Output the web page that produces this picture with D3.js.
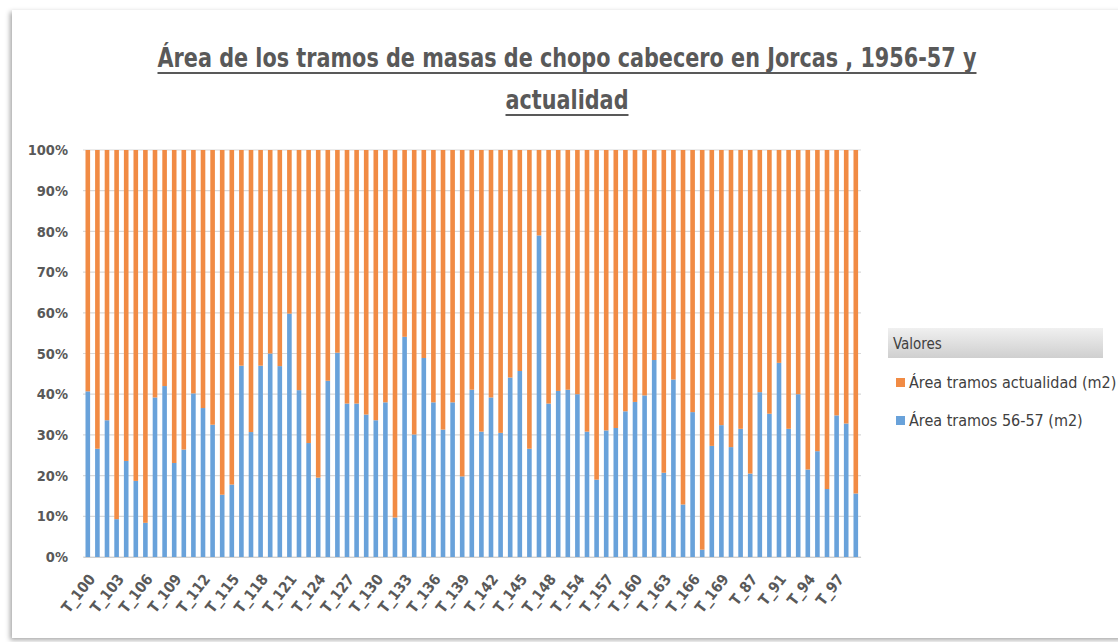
<!DOCTYPE html>
<html>
<head>
<meta charset="utf-8">
<script src="https://cdn.jsdelivr.net/npm/d3@7"></script>
<style>
  html, body { margin: 0; padding: 0; background: #ffffff; }
  svg { display: block; }
</style>
</head>
<body>
<svg id="chart" width="1118" height="642"></svg>
<script>
const categories = [
  "T_100","T_101","T_102","T_103","T_104","T_105","T_106","T_107","T_108","T_109",
  "T_110","T_111","T_112","T_113","T_114","T_115","T_116","T_117","T_118","T_119",
  "T_120","T_121","T_122","T_123","T_124","T_125","T_126","T_127","T_128","T_129",
  "T_130","T_131","T_132","T_133","T_134","T_135","T_136","T_137","T_138","T_139",
  "T_140","T_141","T_142","T_143","T_144","T_145","T_146","T_147","T_148","T_149",
  "T_150","T_154","T_155","T_156","T_157","T_158","T_159","T_160","T_161","T_162",
  "T_163","T_164","T_165","T_166","T_167","T_168","T_169","T_85","T_86","T_87",
  "T_88","T_89","T_91","T_92","T_93","T_94","T_95","T_96","T_97","T_98","T_99"
];

// Share of each section (%)
const area5657 = [
  40.7, 26.6, 33.6, 9.3, 23.6, 18.7, 8.4, 39.2, 42.0, 23.1,
  26.4, 40.2, 36.6, 32.5, 15.3, 17.8, 47.0, 30.7, 47.0, 50.0,
  46.9, 59.8, 41.0, 28.0, 19.5, 43.3, 50.2, 37.7, 37.7, 35.0,
  33.6, 38.0, 9.7, 54.1, 30.1, 48.9, 38.0, 31.3, 38.0, 19.8,
  41.1, 30.8, 39.2, 30.5, 44.1, 45.7, 26.6, 79.0, 37.7, 40.8,
  41.1, 40.0, 30.8, 19.0, 31.1, 31.7, 35.8, 38.1, 39.7, 48.4,
  20.7, 43.6, 12.9, 35.6, 1.8, 27.3, 32.4, 27.0, 31.5, 20.5,
  40.5, 35.2, 47.7, 31.5, 40.0, 21.5, 26.0, 16.7, 34.8, 32.8, 15.6
];
const areaActual = [
  59.3, 73.4, 66.4, 90.7, 76.4, 81.3, 91.6, 60.8, 58.0, 76.9,
  73.6, 59.8, 63.4, 67.5, 84.7, 82.2, 53.0, 69.3, 53.0, 50.0,
  53.1, 40.2, 59.0, 72.0, 80.5, 56.7, 49.8, 62.3, 62.3, 65.0,
  66.4, 62.0, 90.3, 45.9, 69.9, 51.1, 62.0, 68.7, 62.0, 80.2,
  58.9, 69.2, 60.8, 69.5, 55.9, 54.3, 73.4, 21.0, 62.3, 59.2,
  58.9, 60.0, 69.2, 81.0, 68.9, 68.3, 64.2, 61.9, 60.3, 51.6,
  79.3, 56.4, 87.1, 64.4, 98.2, 72.7, 67.6, 73.0, 68.5, 79.5,
  59.5, 64.8, 52.3, 68.5, 60.0, 78.5, 74.0, 83.3, 65.2, 67.2, 84.4
];

const seriesNames = ["Área tramos 56-57 (m2)", "Área tramos actualidad (m2)"];
const seriesColors = ["#69a2da", "#f18b44"];
const yTicks = [0, 0.1, 0.2, 0.3, 0.4, 0.5, 0.6, 0.7, 0.8, 0.9, 1.0];
const titleLines = ["Área de los tramos de masas de chopo cabecero en Jorcas , 1956-57 y", "actualidad"];
const legendTitle = "Valores";

const FONT = "'Liberation Sans Narrow', 'DejaVu Sans Condensed', 'Arial Narrow', sans-serif";
const svg = d3.select("#chart");

// frame with soft shadow
const defs = svg.append("defs");
const f = defs.append("filter").attr("id", "sh").attr("x", "-5%").attr("y", "-5%").attr("width", "110%").attr("height", "110%");
f.append("feDropShadow").attr("dx", -2).attr("dy", 2).attr("stdDeviation", 2.5).attr("flood-color", "#000").attr("flood-opacity", 0.35);
const lg = defs.append("linearGradient").attr("id", "hdr").attr("x1", 0).attr("y1", 0).attr("x2", 0).attr("y2", 1);
lg.append("stop").attr("offset", "0%").attr("stop-color", "#f0f0f0");
lg.append("stop").attr("offset", "100%").attr("stop-color", "#cfcfcf");

svg.append("rect").attr("x", 12).attr("y", 10).attr("width", 1112).attr("height", 628)
  .attr("fill", "#fff").attr("filter", "url(#sh)");

const rows = categories.map((c, i) => ({ cat: c, a: area5657[i], b: areaActual[i] }));
const stack = d3.stack().keys(["a", "b"]).offset(d3.stackOffsetExpand);
const stacked = stack(rows);

const x = d3.scaleBand().domain(categories).range([83, 860.6]).paddingInner(0.52).paddingOuter(0.26);
const y = d3.scaleLinear().domain([0, 1]).range([557, 150]);

// gridlines
svg.append("g").selectAll("line").data(yTicks).join("line")
  .attr("x1", 83).attr("x2", 861)
  .attr("y1", d => y(d)).attr("y2", d => y(d))
  .attr("stroke", "#d9d9d9").attr("stroke-width", 1.2);

// y axis labels via axis
const yAxis = d3.axisLeft(y).tickValues(yTicks).tickFormat(d3.format(".0%")).tickSize(0).tickPadding(15);
const ya = svg.append("g").attr("transform", "translate(83,0)").call(yAxis);
ya.select(".domain").remove();
ya.selectAll("text").attr("font-family", FONT).attr("font-size", 14.5).attr("font-weight", "bold").attr("fill", "#595959");

// bars
svg.append("g").selectAll("g").data(stacked).join("g")
  .attr("fill", (d, i) => seriesColors[i])
  .selectAll("rect").data(d => d).join("rect")
  .attr("x", d => x(d.data.cat))
  .attr("width", x.bandwidth())
  .attr("y", d => y(d[1]))
  .attr("height", d => y(d[0]) - y(d[1]));

// x axis
const xAxis = d3.axisBottom(x).tickValues(categories.filter((c, i) => i % 3 === 0)).tickSize(0).tickPadding(0);
const xa = svg.append("g").attr("transform", "translate(0,557)").call(xAxis);
xa.select(".domain").attr("stroke", "#d0d0d0").attr("stroke-width", 1.2);
xa.selectAll("text")
  .attr("font-family", FONT).attr("font-size", 15).attr("font-weight", "bold").attr("fill", "#595959")
  .attr("text-anchor", "end")
  .attr("transform", "translate(4,19) rotate(-52)")
  .attr("dy", "0.35em").attr("y", 0);

// title
const tg = svg.append("g");
const tl = [{ t: titleLines[0], y: 67, w: 819 }, { t: titleLines[1], y: 109, w: 123 }];
tl.forEach(l => {
  tg.append("text").attr("x", 567).attr("y", l.y).attr("text-anchor", "middle")
    .attr("font-family", FONT).attr("font-size", 27).attr("font-weight", "bold").attr("fill", "#595959")
    .attr("textLength", l.w).attr("lengthAdjust", "spacingAndGlyphs")
    .text(l.t);
  tg.append("line").attr("x1", 567 - l.w / 2).attr("x2", 567 + l.w / 2)
    .attr("y1", l.y + 6).attr("y2", l.y + 6).attr("stroke", "#595959").attr("stroke-width", 2);
});

// legend
const leg = svg.append("g");
leg.append("rect").attr("x", 888).attr("y", 328).attr("width", 215).attr("height", 30).attr("fill", "url(#hdr)");
leg.append("text").attr("x", 893).attr("y", 349).attr("font-family", FONT).attr("font-size", 15)
  .attr("fill", "#404040").text(legendTitle);
const legItems = [{ name: seriesNames[1], color: seriesColors[1], y: 383 }, { name: seriesNames[0], color: seriesColors[0], y: 421 }];
legItems.forEach(it => {
  leg.append("rect").attr("x", 896).attr("y", it.y - 5).attr("width", 9).attr("height", 9).attr("fill", it.color);
  leg.append("text").attr("x", 909).attr("y", it.y + 5).attr("font-family", FONT).attr("font-size", 16)
    .attr("fill", "#404040").text(it.name);
});
</script>
</body>
</html>
